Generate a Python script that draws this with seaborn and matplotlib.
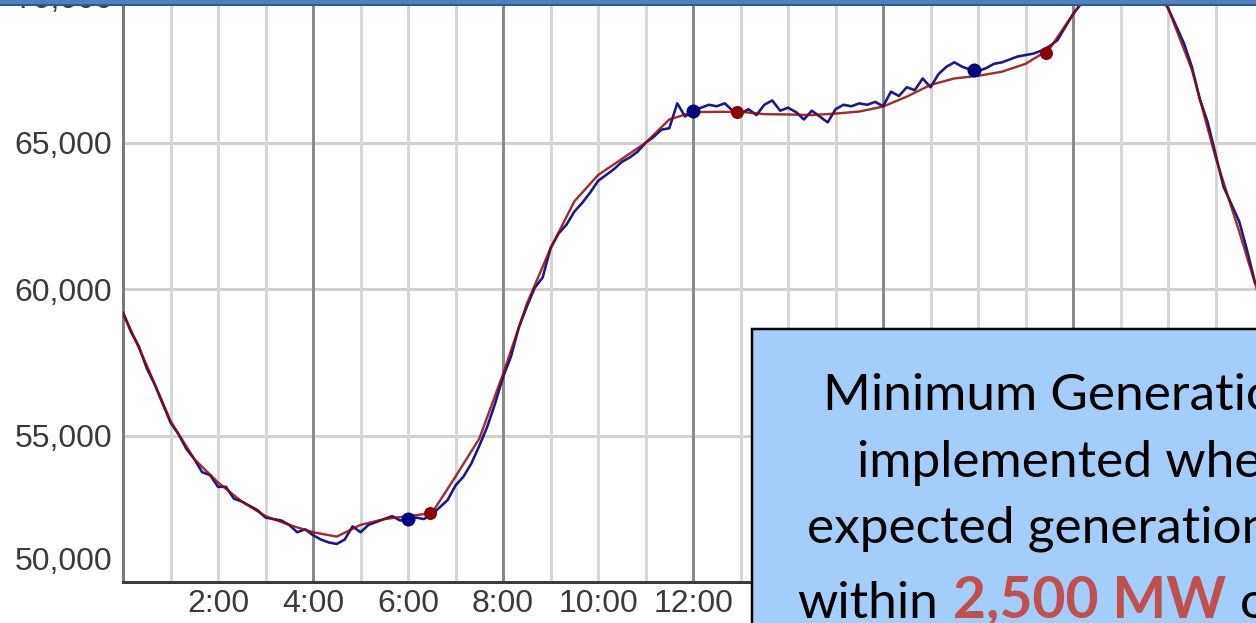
import numpy as np
import pandas as pd
import matplotlib
matplotlib.use("Agg")
import matplotlib.pyplot as plt
import matplotlib.transforms as mtransforms
from matplotlib.patches import Rectangle
import seaborn as sns

# ---------------- data ----------------
# Forecast load (red), every 30 minutes
forecast_hours = [i * 0.5 for i in range(49)]
forecast_mw = [59200, 57400, 55500, 54200, 53400, 52750, 52250, 51950, 51700, 51550,
               51950, 52150, 52250, 52350, 53600, 54900, 57100, 59500, 61400, 63000,
               63900, 64450, 65000, 65800, 66050, 66060, 66060, 65980, 65970, 65950,
               66000, 66070, 66240, 66580, 66980, 67200, 67290, 67430, 67700, 68200,
               69400, 70500, 71100, 70800, 69600, 67500, 64500, 61950, 59300]

# Actual load (blue), every 10 minutes
actual_hours = [i / 6 for i in range(144)]
actual_mw = [
    59200, 58550, 58050, 57300, 56750, 56100,
    55450, 55050, 54550, 54200, 53750, 53650,
    53250, 53250, 52850, 52750, 52600, 52450,
    52200, 52150, 52100, 51950, 51700, 51800,
    51600, 51450, 51350, 51300, 51450, 51900,
    51700, 51950, 52050, 52150, 52250, 52100,
    52150, 52200, 52150, 52300, 52550, 52800,
    53300, 53600, 54050, 54650, 55300, 56100,
    57000, 57700, 58700, 59400, 60050, 60400,
    61400, 61900, 62200, 62650, 62950, 63300,
    63700, 63900, 64100, 64350, 64500, 64700,
    65000, 65200, 65450, 65500, 66350, 65900,
    66100, 66200, 66300, 66250, 66350, 66100,
    66000, 66150, 65950, 66300, 66450, 66100,
    66200, 66050, 65800, 66100, 65900, 65700,
    66150, 66300, 66250, 66350, 66300, 66400,
    66250, 66750, 66600, 66900, 66800, 67200,
    66900, 67350, 67600, 67750, 67600, 67500,
    67450, 67550, 67700, 67750, 67850, 67950,
    68000, 68050, 68150, 68300, 68500, 68950,
    69400, 69750, 70100, 70400, 70700, 70900,
    71100, 71150, 71000, 70800, 70500, 70100,
    69600, 69000, 68400, 67600, 66500, 65700,
    64600, 63500, 62900, 62300, 61300, 60200,
]

actual_marker_hours = [6.0, 12.0, 17.92]
actual_marker_mw = [52150, 66100, 67480]
forecast_marker_hours = [6.47, 12.93, 19.42]
forecast_marker_mw = [52340, 66070, 68060]

xtick_hours = [2, 4, 6, 8, 10, 12, 14, 16, 18, 20, 22]
xtick_labels = ["2:00", "4:00", "6:00", "8:00", "10:00", "12:00", "14:00",
                "16:00", "18:00", "20:00", "22:00"]
ytick_values = [50000, 55000, 60000, 65000]
ytick_labels = ["50,000", "55,000", "60,000", "65,000"]
top_label = "70,000"

box_lines = ["Minimum Generation", "implemented when", "expected generation"]
box_last_pre = "within"
box_highlight = "2,500 MW"
box_last_post = "of"

# ---------------- figure ----------------
sns.set_theme(style="white")
W, H = 1256, 623
fig = plt.figure(figsize=(W / 100, H / 100), dpi=100)
fig.patch.set_facecolor("white")
ax = fig.add_axes([123 / W, 41 / H, (W - 123) / W, (H - 41) / H])
ax.set_facecolor("white")

ax.set_xlim(0, 23.85)
ax.set_ylim(50000, 69880)

px = 72 / 100  # points per pixel

# grid lines
for h in range(1, 24):
    if h % 4 == 0:
        ax.axvline(h, color="#8a8a8a", lw=3 * px, zorder=1)
    else:
        ax.axvline(h, color="#d6d6d6", lw=3 * px, zorder=0.9)
for v in [55000, 60000, 65000, 70000]:
    ax.axhline(v, color="#d0d0d0", lw=3 * px, zorder=0.8)

df_f = pd.DataFrame({"hour": forecast_hours, "mw": forecast_mw})
df_a = pd.DataFrame({"hour": actual_hours, "mw": actual_mw})

sns.lineplot(data=df_a, x="hour", y="mw", ax=ax, color="#00007f", lw=2.6 * px,
             zorder=3, alpha=0.9)
sns.lineplot(data=df_f, x="hour", y="mw", ax=ax, color="#8b0a0a", lw=2.4 * px,
             zorder=4, alpha=0.85)
ax.plot(actual_marker_hours, actual_marker_mw, "o", color="#00007f", ms=14 * px,
        zorder=5, mew=0)
ax.plot(forecast_marker_hours, forecast_marker_mw, "o", color="#8b0000", ms=13 * px,
        zorder=5, mew=0)

# axes styling
for s in ["top", "right"]:
    ax.spines[s].set_visible(False)
ax.spines["left"].set_color("#7a7a7a")
ax.spines["left"].set_linewidth(3 * px)
ax.spines["bottom"].set_color("#3c3c3c")
ax.spines["bottom"].set_linewidth(3 * px)
ax.set_xlabel("")
ax.set_ylabel("")

tick_font = dict(family=["Liberation Sans", "DejaVu Sans"], size=23)
ax.set_xticks(xtick_hours)
ax.set_xticklabels(xtick_labels, color="#3a3a3a", **tick_font)
ax.set_yticks(ytick_values)
ax.set_yticklabels(ytick_labels, color="#3a3a3a", **tick_font)
ax.tick_params(axis="both", length=0)
ax.tick_params(axis="x", pad=5)
ax.tick_params(axis="y", pad=8)

# lift the bottom y label above the axis line
lbl = ax.get_yticklabels()[0]
lbl.set_transform(lbl.get_transform() +
                  mtransforms.ScaledTranslation(0, 24 / 100, fig.dpi_scale_trans))

ax.text(-10 / (W - 123), 70000, top_label, transform=ax.get_yaxis_transform(),
        ha="right", va="center_baseline", color="#3a3a3a", clip_on=False,
        **tick_font)

# top blue bar
fig.add_artist(Rectangle((0, 1 - 5 / H), 1, 5 / H, transform=fig.transFigure,
                         facecolor="#4f81bd", edgecolor="none", zorder=10))
fig.add_artist(Rectangle((0, 1 - 6 / H), 1, 1.5 / H, transform=fig.transFigure,
                         facecolor="#2c5a96", edgecolor="none", zorder=10))

# callout box
bx, by = 752, 329
fig.add_artist(Rectangle((bx / W, -0.1), 0.5, 1 - by / H + 0.1,
                         transform=fig.transFigure, facecolor="#a3cdfb",
                         edgecolor="black", lw=2.5 * px, zorder=11))
box_font = ["Lato", "DejaVu Sans"]
line_pos = [(823, 410), (857, 477), (807, 543)]
for txt, (lx, ly) in zip(box_lines, line_pos):
    fig.text(lx / W, 1 - ly / H, txt, ha="left", va="baseline", fontsize=37,
             family=box_font, color="black", zorder=12)
fig.text(797 / W, 1 - 618 / H, box_last_pre, ha="left", va="baseline", fontsize=37,
         family=box_font, color="black", zorder=12)
fig.text(953 / W, 1 - 618 / H, box_highlight, ha="left", va="baseline", fontsize=41,
         family=box_font, weight="bold", color="#c0504d", zorder=12)
fig.text(1240 / W, 1 - 618 / H, box_last_post, ha="left", va="baseline", fontsize=37,
         family=box_font, color="black", zorder=12)

fig.savefig("out.png", dpi=100)
